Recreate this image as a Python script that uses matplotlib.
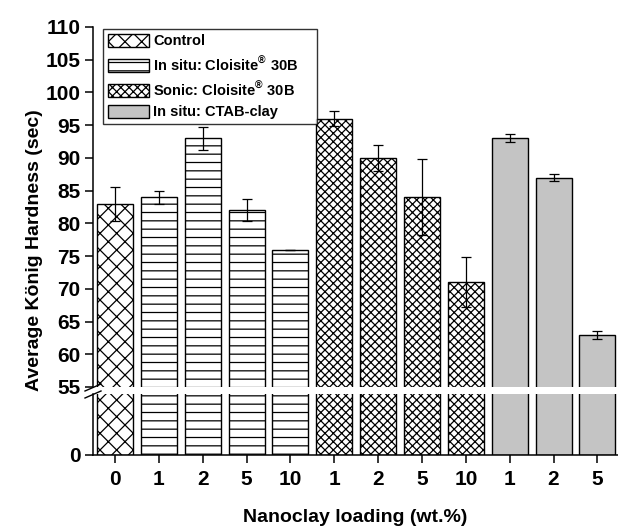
import numpy as np
import matplotlib
matplotlib.use("Agg")
import matplotlib.pyplot as plt
from matplotlib.lines import Line2D

plt.rcParams['font.family'] = ['Liberation Sans', 'DejaVu Sans']
plt.rcParams['font.weight'] = 'bold'
plt.rcParams['mathtext.fontset'] = 'custom'
plt.rcParams['mathtext.rm'] = 'Liberation Sans'
plt.rcParams['hatch.linewidth'] = 0.9

# Average König hardness per formulation (sec) and standard deviations
tick_labels = ['0', '1', '2', '5', '10', '1', '2', '5', '10', '1', '2', '5']

control_vals = [83]
control_err = [2.6]

insitu_vals = [84, 93, 82, 76]
insitu_err = [1.0, 1.75, 1.7, 0.0]

sonic_vals = [96, 90, 84, 71]
sonic_err = [1.1, 2.0, 5.8, 3.8]

ctab_vals = [93, 87, 63]
ctab_err = [0.6, 0.55, 0.6]

series = [
    ('Control', control_vals, control_err, dict(facecolor='white', hatch='xx')),
    (r'In situ: Cloisite$^{\mathrm{®}}$ 30B', insitu_vals, insitu_err, dict(facecolor='white', hatch='--')),
    (r'Sonic: Cloisite$^{\mathrm{®}}$ 30B', sonic_vals, sonic_err, dict(facecolor='white', hatch='xxxx')),
    ('In situ: CTAB-clay', ctab_vals, ctab_err, dict(facecolor='#c4c4c4', hatch=None)),
]

W, H = 618, 527
fig = plt.figure(figsize=(W / 100, H / 100), dpi=100)
fig.patch.set_facecolor('white')

left, right = 93, 618
top_y, brk_hi, brk_lo, zero_y = 27, 387, 394, 455
ax_top = fig.add_axes([left / W, 1 - brk_hi / H, (right - left) / W, (brk_hi - top_y) / H])
ax_bot = fig.add_axes([left / W, 1 - zero_y / H, (right - left) / W, (zero_y - brk_lo) / H])

bar_w = 0.82
pos = 0
handles = []
for label, vals, errs, style in series:
    x = np.arange(pos, pos + len(vals))
    for ax in (ax_top, ax_bot):
        bars = ax.bar(x, vals, width=bar_w, edgecolor='black', linewidth=1.0,
                      label=label, **style)
    ax_top.errorbar(x, vals, yerr=errs, fmt='none', ecolor='black',
                    elinewidth=0.9, capsize=3.3, capthick=0.9)
    handles.append(bars)
    pos += len(vals)

xlim = (-0.502, 11.47)
for ax in (ax_top, ax_bot):
    ax.set_xlim(*xlim)
    ax.spines['top'].set_visible(False)
    ax.spines['right'].set_visible(False)
    ax.spines['left'].set_linewidth(1.1)
    ax.spines['bottom'].set_linewidth(1.1)
    ax.tick_params(axis='both', direction='out', length=6, width=1.1,
                   labelsize=15, pad=3)

ax_top.set_ylim(55, 110)
ax_top.set_yticks(np.arange(55, 111, 5))
ax_top.spines['bottom'].set_visible(False)
ax_top.tick_params(axis='x', bottom=False, labelbottom=False)

ax_bot.set_ylim(0, 55)
ax_bot.set_yticks([0])
ax_bot.set_xticks(np.arange(len(tick_labels)))
ax_bot.set_xticklabels(tick_labels)
ax_bot.tick_params(axis='x', pad=5)
ax_bot.set_xlabel('Nanoclay loading (wt.%)', fontsize=14, fontweight='bold', labelpad=14)

fig.text(35 / W, 1 - 250 / H, 'Average König Hardness (sec)', rotation=90,
         ha='center', va='center', fontsize=14, fontweight='bold')

# axis break marks
for yb in (brk_hi + 1, brk_lo + 1):
    fig.add_artist(Line2D([85 / W, 101 / W], [1 - (yb + 3) / H, 1 - (yb - 4) / H],
                          color='black', linewidth=1.0))

span = right - left
height = brk_hi - top_y
leg = ax_top.legend(handles=handles, loc='upper left', mode='expand',
                    bbox_to_anchor=(10 / span, 1 - 2 / height, 214 / span, 0),
                    borderaxespad=0, fontsize=10.5, frameon=True, fancybox=False,
                    edgecolor='black', handlelength=2.8, handleheight=0.95,
                    handletextpad=0.3, labelspacing=0.45, borderpad=0.35)
leg.get_frame().set_linewidth(1.0)
for t in leg.get_texts():
    t.set_fontweight('bold')

fig.savefig('out.png', dpi=100, facecolor='white')
